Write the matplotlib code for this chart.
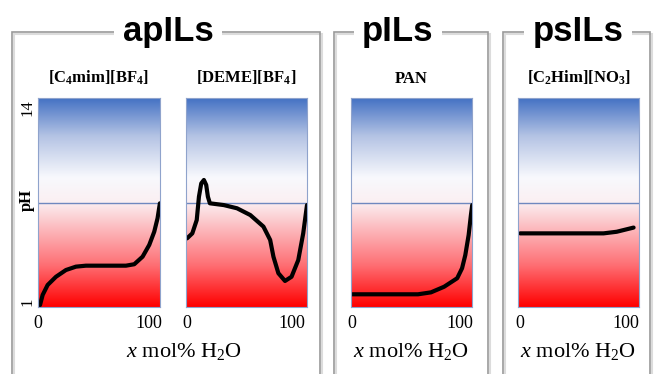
import numpy as np
import matplotlib
matplotlib.use("Agg")
import matplotlib.pyplot as plt
from matplotlib.colors import LinearSegmentedColormap
from matplotlib.patches import Rectangle

# pH vs water content (pH scale 1..14)
c4mim_x = [1.8, 4.2, 8.7, 16.2, 25.2, 34.2, 43.2, 58.3, 79.3, 86.8, 94.3, 100.3, 104.8, 107.8, 109.9]
c4mim_ph = [1.12, 1.75, 2.37, 2.88, 3.30, 3.51, 3.57, 3.57, 3.57, 3.66, 4.13, 4.86, 5.68, 6.52, 7.45]

deme_x = [0, 5.0, 9.2, 11.3, 13.5, 16, 18.2, 19.8, 21.7, 34.9, 47.5, 60.1, 72.6, 79, 82.1,
          86.8, 93.1, 99.3, 105.7, 110.4, 114]
deme_ph = [5.27, 5.58, 6.41, 7.86, 8.69, 8.9, 8.59, 7.86, 7.45, 7.34, 7.14, 6.72, 6.0, 5.17, 4.13,
           3.1, 2.62, 2.88, 3.92, 5.58, 7.34]

pan_x = [0.3, 27.5, 61, 73, 85.2, 97.3, 101.8, 104.8, 107.9, 110, 111.2]
pan_ph = [1.79, 1.79, 1.79, 1.91, 2.26, 2.79, 3.41, 4.23, 5.48, 6.72, 7.34]

c2him_x = [0, 78.6, 91, 106.9]
c2him_ph = [5.58, 5.58, 5.68, 5.94]

group_titles = ["apILs", "pILs", "psILs"]
panel_titles = [r"$\mathbf{[C_4mim][BF_4]}$", r"$\mathbf{[DEME][BF_4]}$", "PAN",
                r"$\mathbf{[C_2Him][NO_3]}$"]
xlabel = r"$x$ mol% H$_2$O"

W, H = 656, 374
fig = plt.figure(figsize=(W / 100, H / 100), dpi=100)
plt.rcParams["mathtext.fontset"] = "custom"
plt.rcParams["mathtext.rm"] = "Liberation Serif"
plt.rcParams["mathtext.it"] = "Liberation Serif:italic"
plt.rcParams["mathtext.bf"] = "Liberation Serif:bold"


def fx(px):
    return px / W


def fy(py):
    return 1 - py / H


# group boxes with the title breaking the top border
boxes = [(12, 320, 168), (334, 488, 398), (503, 650, 578)]
for (x0, x1, xc), title in zip(boxes, group_titles):
    fig.patches.append(Rectangle((fx(x0) + 0.003, -0.1), fx(x1 - x0), fy(32) + 0.1 - 0.006,
                                 transform=fig.transFigure, fill=False,
                                 edgecolor="#dcdcdc", lw=1.5))
    fig.patches.append(Rectangle((fx(x0), -0.1), fx(x1 - x0), fy(32) + 0.1,
                                 transform=fig.transFigure, fill=False,
                                 edgecolor="#9a9a9a", lw=1.2))
    fig.text(fx(xc), fy(31), title, ha="center", va="center", fontsize=25,
             fontweight="bold", family="Liberation Sans",
             bbox=dict(facecolor="white", edgecolor="none", pad=6))

cmap = LinearSegmentedColormap.from_list(
    "ph", [(0.0, "#ff0000"), (0.2, "#fe6f74"), (0.5, "#fbeff2"),
           (0.62, "#f8f9fd"), (0.82, "#b4c3e4"), (1.0, "#4472c4")])

panels = [(38, 160, (0, 110), c4mim_x, c4mim_ph),
          (186, 307, (-1, 114), deme_x, deme_ph),
          (351, 472, (-1, 111), pan_x, pan_ph),
          (518, 639, (-2, 112), c2him_x, c2him_ph)]

axes = []
for (l, r, xlim, xs, ys), title in zip(panels, panel_titles):
    ax = fig.add_axes([fx(l), fy(307), fx(r - l), fy(98) - fy(307)])
    grad = np.linspace(0, 1, 256).reshape(-1, 1)
    ax.imshow(grad, cmap=cmap, aspect="auto", origin="lower",
              extent=[xlim[0], xlim[1], 1, 14], zorder=0)
    ax.axhline(7.5, color="#6f88bf", lw=1.0, zorder=1)
    ax.plot(xs, ys, color="black", lw=3, solid_capstyle="round",
            solid_joinstyle="round", zorder=2)
    ax.set_xlim(*xlim)
    ax.set_ylim(1, 14)
    for s in ax.spines.values():
        s.set_color("#8fa3cc")
        s.set_linewidth(0.8)
    ax.set_xticks([0, 100])
    ax.set_xticklabels(["0", "100"], family="Liberation Serif", fontsize=13)
    ax.tick_params(length=0, pad=6)
    ax.set_yticks([])
    ax.set_title(title, family="Liberation Serif", fontweight="bold", fontsize=12, pad=11)
    axes.append(ax)

# pH axis on the first panel only
for val, ypx in ((1, 302), (14, 108)):
    fig.text(fx(27), fy(ypx), str(val), family="Liberation Serif", fontsize=12,
             rotation=90, ha="center", va="center")
fig.text(fx(27), fy(200), "pH", family="Liberation Serif", fontweight="bold",
         fontsize=12, rotation=90, ha="center", va="center")

for xc in (184, 411, 578):
    fig.text(fx(xc), fy(352), xlabel, ha="center", va="center", fontsize=16,
             family="Liberation Serif")

fig.savefig("out.png", dpi=100)
